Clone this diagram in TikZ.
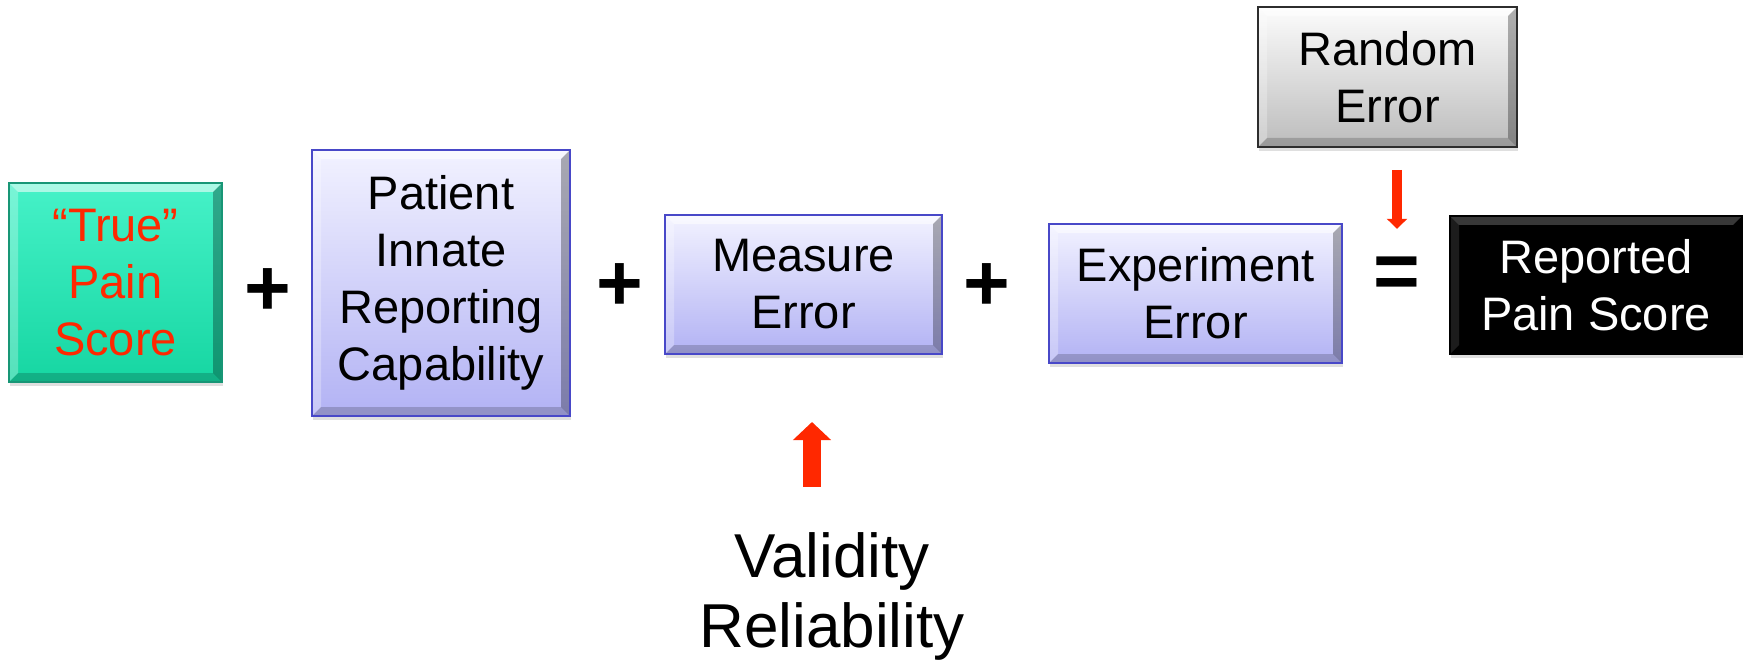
\documentclass[tikz,border=0pt]{standalone}
\usepackage{fontspec}
\setmainfont{Liberation Sans}
\usetikzlibrary{calc, arrows.meta, shadows}

\definecolor{aquaTop}{RGB}{70,242,200}
\definecolor{aquaBot}{RGB}{22,214,162}
\definecolor{aquaLine}{RGB}{24,150,118}
\definecolor{painRed}{RGB}{255,40,0}
\definecolor{lavTop}{RGB}{242,242,255}
\definecolor{lavBot}{RGB}{178,178,244}
\definecolor{lavLine}{RGB}{72,72,200}
\definecolor{greyTop}{RGB}{252,252,252}
\definecolor{greyBot}{RGB}{188,188,188}
\definecolor{greyLine}{RGB}{45,45,45}
\newcommand{\bevw}{4.5pt}

\begin{document}
\begin{tikzpicture}[x=0.5pt, y=-0.5pt,
    bevel/.style={path picture={
        \path (path picture bounding box.north west) coordinate (bnw)
              (path picture bounding box.north east) coordinate (bne)
              (path picture bounding box.south west) coordinate (bsw)
              (path picture bounding box.south east) coordinate (bse);
        \fill[white, opacity=#1] (bnw) -- (bne) -- ($(bne)+(-\bevw,-\bevw)$) -- ($(bnw)+(\bevw,-\bevw)$) -- cycle;
        \fill[white, opacity=#1/2] (bnw) -- ($(bnw)+(\bevw,-\bevw)$) -- ($(bsw)+(\bevw,\bevw)$) -- (bsw) -- cycle;
        \fill[black, opacity=0.3] (bne) -- (bse) -- ($(bse)+(-\bevw,\bevw)$) -- ($(bne)+(-\bevw,-\bevw)$) -- cycle;
        \fill[black, opacity=0.18] (bsw) -- (bse) -- ($(bse)+(-\bevw,\bevw)$) -- ($(bsw)+(\bevw,\bevw)$) -- cycle;
    }},
    bevel/.default=0.55,
    box/.style={draw, line width=1pt, inner sep=0pt, align=center,
        font=\fontsize{23.5}{28.5}\selectfont,
        drop shadow={opacity=0.25, shadow xshift=0.5pt, shadow yshift=-2pt}},
    aquabox/.style={box, bevel, draw=aquaLine, top color=aquaTop, bottom color=aquaBot, text=painRed},
    lavbox/.style={box, bevel, draw=lavLine, top color=lavTop, bottom color=lavBot},
    greybox/.style={box, bevel, draw=greyLine, top color=greyTop, bottom color=greyBot},
    blackbox/.style={box, bevel=0.22, draw=black, fill=black, text=white},
    sign/.style={inner sep=0pt, font=\fontsize{40}{40}\selectfont\bfseries},
    uparrow/.style={draw=painRed, line width=9pt, -{Triangle[length=9pt, width=18.5pt]}},
    downarrow/.style={draw=painRed, line width=5pt, -{Triangle[length=5pt, width=10pt]}}]

\useasboundingbox (0,0) rectangle (1743,662);

\node[aquabox, minimum width=106.5pt, minimum height=99.5pt] (truescore) at (115.5,282.5) {“True”\\Pain\\Score};
\node[lavbox, minimum width=129pt, minimum height=133pt] (patient) at (441,283) {Patient\\Innate\\Reporting\\Capability};
\node[lavbox, minimum width=138.5pt, minimum height=69.5pt] (measure) at (803.5,284.5) {Measure\\Error};
\node[lavbox, minimum width=146.5pt, minimum height=69.5pt] (experiment) at (1195.5,293.5) {Experiment\\Error};
\node[blackbox, minimum width=146pt, minimum height=69pt] (reported) at (1596,285) {Reported\\Pain Score};
\node[greybox, minimum width=129.5pt, minimum height=70pt] (random) at (1387.5,77) {Random\\Error};

\node[sign] (plusa) at (268,292) {+};
\node[sign] (plusb) at (620,287) {+};
\node[sign] (plusc) at (987,287) {+};
\node[sign] (equals) at (1397,278) {=};

\node[inner sep=0pt, align=center, font=\fontsize{31}{35}\selectfont] (validity) at (832,596) {Validity\\Reliability};
\coordinate (upx) at (812,0);

\draw[uparrow, shorten <=22.5pt, shorten >=33.5pt] (validity.north -| upx) -- (measure.south -| upx);
\draw[downarrow, shorten <=11pt, shorten >=14pt] (random.south -| equals.north) -- (equals.north);
\end{tikzpicture}
\end{document}
